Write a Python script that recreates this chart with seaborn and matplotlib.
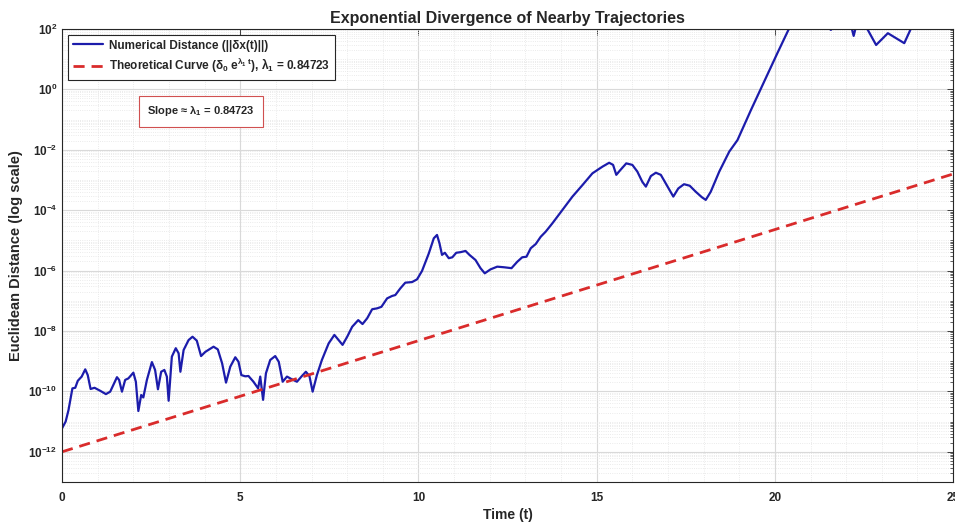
import numpy as np
import pandas as pd
import matplotlib
matplotlib.use('Agg')
import matplotlib.pyplot as plt
import matplotlib.ticker as mticker
import seaborn as sns

# Data ================================================================
time_t = [0.00, 0.10, 0.18, 0.29, 0.37, 0.44, 0.55, 0.65, 0.72, 0.80, 0.91, 1.07,
          1.23, 1.35, 1.54, 1.60, 1.68, 1.77, 1.86, 2.00, 2.07, 2.14, 2.22, 2.28,
          2.38, 2.52, 2.61, 2.69, 2.78, 2.87, 2.94, 2.99, 3.08, 3.19, 3.27, 3.32,
          3.41, 3.55, 3.66, 3.78, 3.90, 4.02, 4.25, 4.37, 4.49, 4.60, 4.72, 4.86,
          4.95, 5.03, 5.14, 5.23, 5.37, 5.50, 5.56, 5.64, 5.72, 5.84, 5.98, 6.08,
          6.19, 6.31, 6.45, 6.59, 6.73, 6.84, 6.94, 7.03, 7.15, 7.29, 7.48, 7.64,
          7.76, 7.87, 8.00, 8.14, 8.31, 8.43, 8.56, 8.70, 8.84, 8.96, 9.12, 9.26,
          9.35, 9.49, 9.63, 9.82, 9.96, 10.10, 10.29, 10.43, 10.52, 10.59, 10.66,
          10.74, 10.85, 10.95, 11.06, 11.18, 11.32, 11.43, 11.60, 11.74, 11.86,
          12.02, 12.21, 12.40, 12.61, 12.77, 12.91, 13.03, 13.15, 13.29, 13.43,
          13.57, 13.76, 14.04, 14.32, 14.60, 14.88, 15.16, 15.35, 15.46, 15.55,
          15.65, 15.83, 16.00, 16.14, 16.28, 16.38, 16.52, 16.66, 16.80, 16.99,
          17.15, 17.29, 17.45, 17.61, 17.78, 17.95, 18.06, 18.20, 18.44, 18.72,
          18.95, 19.33, 20.07, 20.40, 20.80, 21.20, 21.57, 21.90, 22.14, 22.21,
          22.28, 22.50, 22.84, 23.17, 23.63, 23.82, 24.20, 25.00]

log10_dist = [-11.22, -11.00, -10.62, -9.90, -9.88, -9.65, -9.51, -9.27, -9.46, -9.92,
              -9.88, -9.98, -10.09, -10.01, -9.53, -9.62, -10.01, -9.62, -9.57, -9.38,
              -9.68, -10.65, -10.12, -10.20, -9.62, -9.03, -9.29, -9.93, -9.35, -9.29,
              -9.51, -10.31, -8.85, -8.57, -8.74, -9.35, -8.63, -8.30, -8.19, -8.32,
              -8.83, -8.69, -8.52, -8.61, -9.07, -9.71, -9.18, -8.87, -9.02, -9.46,
              -9.50, -9.49, -9.68, -9.90, -9.51, -10.28, -9.40, -8.96, -8.83, -9.02,
              -9.68, -9.51, -9.60, -9.68, -9.49, -9.35, -9.49, -10.01, -9.46, -8.96,
              -8.41, -8.13, -8.30, -8.46, -8.19, -7.86, -7.64, -7.77, -7.58, -7.28,
              -7.25, -7.20, -6.92, -6.84, -6.81, -6.59, -6.40, -6.38, -6.29, -6.01,
              -5.43, -4.93, -4.82, -5.10, -5.48, -5.41, -5.59, -5.56, -5.41, -5.39,
              -5.35, -5.48, -5.65, -5.92, -6.09, -5.96, -5.87, -5.89, -5.92, -5.71,
              -5.56, -5.54, -5.26, -5.12, -4.88, -4.71, -4.43, -3.99, -3.55, -3.17,
              -2.78, -2.56, -2.43, -2.50, -2.83, -2.69, -2.45, -2.50, -2.72, -3.06,
              -3.22, -2.87, -2.76, -2.83, -3.22, -3.55, -3.28, -3.14, -3.19, -3.39,
              -3.57, -3.66, -3.39, -2.72, -2.06, -1.68, -0.68, 1.20, 2.02, 2.60,
              2.40, 1.97, 2.30, 2.10, 1.77, 2.10, 2.20, 1.47, 1.86, 1.53, 2.02, 2.50,
              2.60]

theory_t = [0.0, 25.0]
theory_dist = [1.0e-12, 1.58e-3]

ytick_vals = [1e-12, 1e-10, 1e-8, 1e-6, 1e-4, 1e-2, 1e0, 1e2]
xtick_vals = [0, 5, 10, 15, 20, 25]

label_num = 'Numerical Distance (||δx(t)||)'
label_theory = r'Theoretical Curve ($\delta_0$ e$^{\lambda_1\ t}$), $\lambda_1$ = 0.84723'
slope_text = r'Slope ≈ $\lambda_1$ = 0.84723'

# Style ===============================================================
sns.set_style('white')
plt.rcParams['font.family'] = ['Liberation Sans', 'DejaVu Sans']
plt.rcParams['font.weight'] = 'bold'
plt.rcParams['mathtext.fontset'] = 'custom'
plt.rcParams['mathtext.rm'] = 'Liberation Sans:bold'
plt.rcParams['mathtext.it'] = 'Liberation Sans:bold'
plt.rcParams['mathtext.bf'] = 'Liberation Sans:bold'

num_df = pd.DataFrame({'t': time_t, 'd': np.power(10.0, log10_dist)})
theory_df = pd.DataFrame({'t': theory_t, 'd': theory_dist})

fig = plt.figure(figsize=(9.55, 5.23), dpi=100)
ax = fig.add_axes([0.065, 0.0784, 0.933, 0.8662])

sns.lineplot(data=num_df, x='t', y='d', ax=ax, color='#1c1cab', linewidth=1.6,
             estimator=None, sort=False, label=label_num)
sns.lineplot(data=theory_df, x='t', y='d', ax=ax, color='#d92b2b', linewidth=2.0,
             linestyle=(0, (4, 2.5)), estimator=None, sort=False, label=label_theory)

ax.set_yscale('log')
ax.set_xlim(0, 25)
ax.set_ylim(1e-13, 1e2)
ax.yaxis.set_major_locator(mticker.FixedLocator(ytick_vals))
ax.yaxis.set_major_formatter(mticker.LogFormatterSciNotation())
ax.yaxis.set_minor_locator(mticker.LogLocator(base=10, subs=np.arange(1, 10), numticks=100))
ax.yaxis.set_minor_formatter(mticker.NullFormatter())
ax.xaxis.set_major_locator(mticker.FixedLocator(xtick_vals))
ax.xaxis.set_minor_locator(mticker.MultipleLocator(1))

# grid, box, ticks
ax.grid(True, which='major', color='#d9d9d9', linewidth=0.8)
ax.grid(True, which='minor', color='#e4e4e4', linewidth=0.6, linestyle=':')
ax.set_axisbelow(True)
for sp in ax.spines.values():
    sp.set_visible(True)
    sp.set_color('#262626')
    sp.set_linewidth(0.8)
ax.tick_params(axis='both', which='both', direction='in', top=True, right=True,
               colors='#262626', labelsize=8.5)
ax.tick_params(axis='both', which='major', length=4, width=0.6)
ax.tick_params(axis='y', which='minor', length=2.2, width=0.5)
ax.tick_params(axis='x', which='minor', length=0)
ax.tick_params(axis='x', which='major', pad=7)

ax.set_title('Exponential Divergence of Nearby Trajectories', fontsize=11.5,
             fontweight='bold', pad=4)
ax.set_xlabel('Time (t)', fontsize=10, fontweight='bold', labelpad=3)
ax.set_ylabel('Euclidean Distance (log scale)', fontsize=10.5, fontweight='bold',
              labelpad=4)

leg = ax.legend(loc='upper left', fontsize=8.5, handlelength=2.6, borderaxespad=0.5,
                fancybox=False, framealpha=1, edgecolor='#262626',
                borderpad=0.4, labelspacing=0.35, handletextpad=0.5)
leg.get_frame().set_linewidth(0.8)

ax.text(0.0954, 0.818, slope_text, transform=ax.transAxes, fontsize=8,
        fontweight='bold', ha='left', va='center',
        bbox=dict(boxstyle='square,pad=0.75', fc='white', ec='#d05050', lw=0.8))

fig.savefig('out.png', dpi=100)
